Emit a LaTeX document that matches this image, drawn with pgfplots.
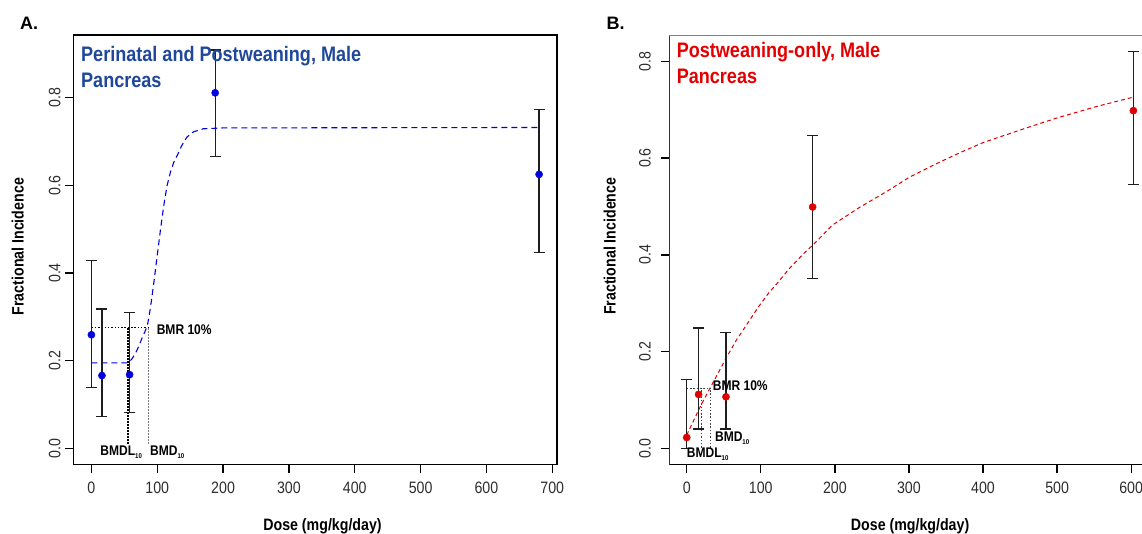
\documentclass[border=0pt]{standalone}
\usepackage{pgfplots}
\pgfplotsset{compat=1.18}
\usepackage{fontspec}
\setmainfont{Liberation Sans}[FakeStretch=0.86]
\newfontfamily\widefont{Liberation Sans}
\definecolor{titleblue}{RGB}{31,71,155}
\definecolor{ptblue}{RGB}{0,0,225}
\definecolor{titlered}{RGB}{228,0,0}
\definecolor{ptred}{RGB}{222,0,0}
\definecolor{tickgray}{RGB}{45,45,45}
\definecolor{barcol}{RGB}{30,30,30}

\pgfplotsset{
  rstyle/.style={
    scale only axis,
    clip=false,
    axis line style={line width=1.3pt},
    tick align=outside,
    xtick pos=bottom, ytick pos=left,
    major tick length=8.5pt,
    tick style={line width=1.3pt, black},
    /pgf/number format/assume math mode=true,
    ticklabel style={font=\fontsize{16.5}{16.5}\selectfont, text=tickgray, inner sep=0pt},
    ytick={0,0.2,0.4,0.6,0.8},
    yticklabel style={rotate=90, anchor=south, /pgf/number format/.cd, fixed, fixed zerofill, precision=1},
    xticklabel style={anchor=north},
    xticklabel shift=8.9pt,
    label style={font=\bfseries\fontsize{16.5}{16.5}\selectfont, inner sep=0pt},
  },
  errstyle/.style={error bars/.cd, y dir=both, y explicit,
      error bar style={barcol, line width=1.2pt},
      error mark options={barcol, line width=1.2pt, mark size=5.5pt, rotate=90}},
}
\tikzset{lab/.style={font=\bfseries\fontsize{14}{14}\selectfont, inner sep=0pt}}
\newcommand{\sub}[1]{\raisebox{-3.5pt}{\fontsize{7}{7}\selectfont #1}}

\begin{document}
\begin{tikzpicture}[x=1pt,y=1pt]
\path[use as bounding box] (0,0) rectangle (1142,533);

% ---------------- Panel A ----------------
\begin{axis}[rstyle,
  at={(73.5pt,68.7pt)}, anchor=south west, width=483.5pt, height=429.3pt,
  xmin=-27.2, xmax=707.2, ymin=-0.0365, ymax=0.943,
  xtick={0,100,200,300,400,500,600,700},
  yticklabel shift=4.3pt,
  xlabel={Dose (mg/kg/day)}, ylabel={Fractional Incidence},
  xlabel style={at={(axis description cs:0.515,0)}, anchor=base, yshift=-66.3pt},
  ylabel style={at={(axis description cs:-0.103,0.507)}, anchor=base},
]
% fitted curve
\addplot[ptblue, line width=1.1pt, dash pattern=on 6pt off 4pt] coordinates {
 (0,0.195) (50,0.195) (56,0.195) (61,0.203) (65,0.212) (69,0.223) (73,0.237)
 (77,0.252) (81,0.265) (85,0.280) (88,0.305) (91,0.335) (95,0.380) (100,0.440)
 (105,0.500) (110,0.555) (115,0.600) (120,0.630) (125,0.652) (130,0.667)
 (137,0.690) (145,0.710) (155,0.722) (170,0.729) (200,0.731) (680,0.732)};
% BMR / BMD / BMDL lines
\addplot[black, line width=1.3pt, dash pattern=on 1.5pt off 1.8pt] coordinates {(0,0.2763) (86,0.2763)};
\addplot[black, line width=1.8pt, dash pattern=on 1.5pt off 1.5pt] coordinates {(56,0.01) (56,0.2763)};
\addplot[gray, line width=0.8pt, dash pattern=on 1.5pt off 1.5pt] coordinates {(86,0.01) (86,0.2763)};
% data with error bars
\addplot[only marks, mark=*, mark size=3.6pt, ptblue, mark options={fill=ptblue, draw=ptblue}, errstyle]
 coordinates {
 (0,0.259)   += (0,0.169) -= (0,0.121)
 (16,0.166)  += (0,0.152) -= (0,0.093)
 (58,0.168)  += (0,0.141) -= (0,0.087)
 (188,0.811) += (0,0.098) -= (0,0.145)
 (680,0.625) += (0,0.148) -= (0,0.179)
 };
\node[lab, anchor=west] at (axis cs:99,0.270) {BMR 10\%};
\node[lab, anchor=base east] at (axis cs:77,-0.016) {BMDL\sub{10}};
\node[lab, anchor=base west] at (axis cs:89,-0.016) {BMD\sub{10}};
\end{axis}

% ---------------- Panel B ----------------
\begin{axis}[rstyle,
  at={(669.3pt,68.5pt)}, anchor=south west, width=482.6pt, height=428.8pt,
  xmin=-23.5, xmax=628, ymin=-0.0328, ymax=0.8528,
  xtick={0,100,200,300,400,500,600},
  yticklabel shift=9.8pt,
  axis line style={line width=1.2pt, gray},
  xlabel={Dose (mg/kg/day)}, ylabel={Fractional Incidence},
  xlabel style={at={(axis description cs:0.499,0)}, anchor=base, yshift=-66.1pt},
  ylabel style={at={(axis description cs:-0.1113,0.509)}, anchor=base},
]
\draw[black, line width=1.3pt] (rel axis cs:0,0) -- (rel axis cs:1,0);
\draw[black!80, line width=1.2pt] (rel axis cs:0,0) -- (rel axis cs:0,1);
\addplot[ptred, line width=1pt, dash pattern=on 4pt off 3pt] coordinates {
 (0,0.028) (5,0.044) (10,0.060) (15,0.076) (20,0.092) (26,0.109) (31.5,0.125)
 (42,0.155) (54,0.189) (67,0.224) (84,0.263) (96,0.291) (111,0.322) (123,0.343)
 (138,0.371) (158,0.403) (170,0.420) (197,0.462) (232,0.497) (271,0.532)
 (300,0.560) (335,0.587) (370,0.612) (400,0.632) (458,0.662) (500,0.683)
 (552,0.706) (603,0.726)};
\addplot[black!75, line width=1pt, dash pattern=on 1.5pt off 1.8pt] coordinates {(0,0.125) (31.5,0.125)};
\addplot[black!75, line width=1pt, dash pattern=on 1.5pt off 1.8pt] coordinates {(19.3,0.002) (19.3,0.125)};
\addplot[black!75, line width=1pt, dash pattern=on 1.5pt off 1.8pt] coordinates {(31.5,0.002) (31.5,0.125)};
\addplot[only marks, mark=*, mark size=3.6pt, ptred, mark options={fill=ptred, draw=ptred}, errstyle]
 coordinates {
 (0,0.023)   += (0,0.1205) -= (0,0.023)
 (16,0.112)  += (0,0.137) -= (0,0.0714)
 (53,0.107)  += (0,0.132) -= (0,0.0664)
 (170,0.499) += (0,0.1476) -= (0,0.1473)
 (603,0.698) += (0,0.122) -= (0,0.153)
 };
\node[lab, anchor=west] at (axis cs:35,0.130) {BMR 10\%};
\node[lab, anchor=west] at (axis cs:38,0.021) {BMD\sub{10}};
\node[lab, anchor=west] at (axis cs:0,-0.012) {BMDL\sub{10}};
\end{axis}

% titles and panel letters
\node[anchor=base west, inner sep=0pt, text=titleblue, font=\bfseries\fontsize{21}{21}\selectfont] at (81,471.8) {Perinatal and Postweaning, Male};
\node[anchor=base west, inner sep=0pt, text=titleblue, font=\bfseries\fontsize{21}{21}\selectfont] at (81,445.2) {Pancreas};
\node[anchor=base west, inner sep=0pt, text=titlered, font=\bfseries\fontsize{21}{21}\selectfont] at (676.6,475.2) {Postweaning-only, Male};
\node[anchor=base west, inner sep=0pt, text=titlered, font=\bfseries\fontsize{21}{21}\selectfont] at (676.6,449.7) {Pancreas};
\node[anchor=base west, inner sep=0pt, font=\widefont\bfseries\fontsize{18}{18}\selectfont] at (20,503.1) {A.};
\node[anchor=base west, inner sep=0pt, font=\widefont\bfseries\fontsize{18}{18}\selectfont] at (606.5,503.1) {B.};
\end{tikzpicture}
\end{document}
